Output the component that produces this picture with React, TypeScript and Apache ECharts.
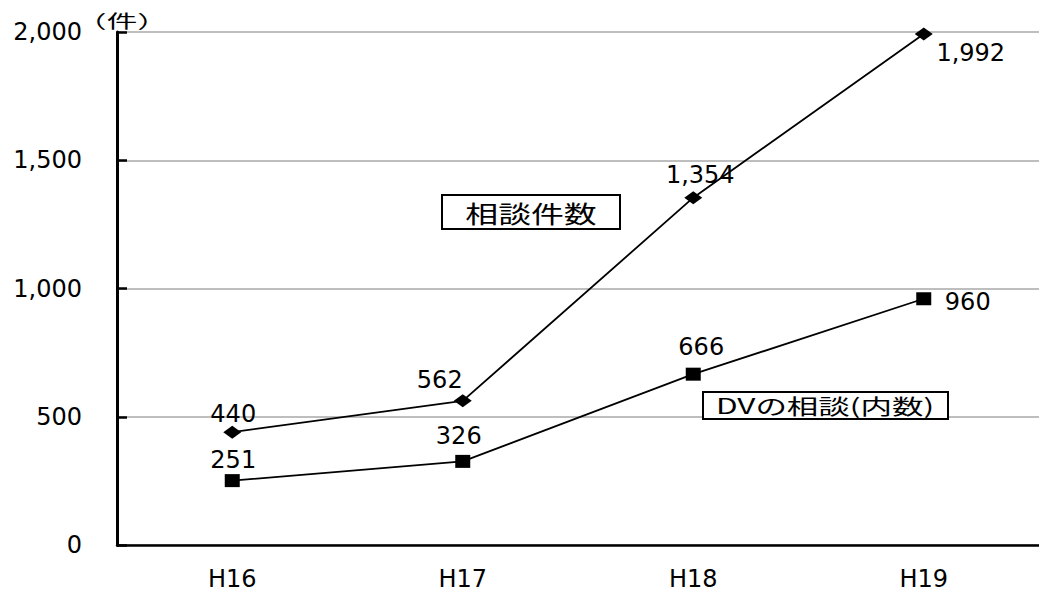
import React, { useEffect, useRef } from "react";
import * as echarts from "echarts";

// Fiscal years (Heisei era)
const years = ["H16", "H17", "H18", "H19"];
// Total consultations
const consultations = [440, 562, 1354, 1992];
// Of which DV consultations
const dvConsultations = [251, 326, 666, 960];
const yTicks = [0, 500, 1000, 1500, 2000];

// Where each value label sits relative to its marker
const totalLabelOffsets = [
  [1, -18],
  [-23, -21],
  [7, -23],
  [47, 19],
];
const dvLabelOffsets = [
  [1, -21],
  [-4, -25],
  [8, -27],
  [44, 3],
];

const NUM_FONT = "'DejaVu Sans', 'Liberation Sans', sans-serif";
const JP_FONT = "'Noto Sans CJK JP', 'DejaVu Sans', sans-serif";

const fmt = (v: number) => v.toLocaleString("en-US");

export default function App() {
  const ref = useRef<HTMLDivElement>(null);

  useEffect(() => {
    if (!ref.current) return;
    const chart = echarts.init(ref.current, null, { renderer: "svg" });

    const labelBase = {
      show: true,
      position: "inside",
      color: "#000",
      textBorderWidth: 0,
      fontSize: 24,
      fontFamily: NUM_FONT,
      formatter: (p: any) => fmt(Number(p.value)),
    };

    chart.setOption({
      animation: false,
      backgroundColor: "#fff",
      grid: { left: 117, top: 32, width: 930, height: 513 },
      xAxis: {
        type: "category",
        data: years,
        boundaryGap: true,
        axisLine: { lineStyle: { color: "#000", width: 2.5 } },
        axisTick: { inside: true, length: 8, lineStyle: { color: "#000", width: 1.5 } },
        axisLabel: { color: "#000", fontSize: 24, fontFamily: NUM_FONT, margin: 22 },
      },
      yAxis: {
        type: "value",
        min: yTicks[0],
        max: yTicks[yTicks.length - 1],
        interval: 500,
        axisLine: { show: true, lineStyle: { color: "#000", width: 3 } },
        axisTick: { show: true, inside: true, length: 10, lineStyle: { color: "#000", width: 2.5 } },
        splitLine: { lineStyle: { color: "#a8a8a8", width: 1.5 } },
        axisLabel: {
          color: "#000",
          fontSize: 24,
          fontFamily: NUM_FONT,
          margin: 35,
          padding: [8, 0, 0, 0],
          formatter: (v: number) => fmt(v),
        },
      },
      series: [
        {
          name: "相談件数",
          type: "line",
          data: consultations.map((v, i) => ({
            value: v,
            label: { offset: totalLabelOffsets[i] },
          })),
          symbol: "diamond",
          symbolSize: [18, 13],
          itemStyle: { color: "#000" },
          lineStyle: { color: "#000", width: 1.8 },
          label: labelBase,
          z: 3,
        },
        {
          name: "DVの相談(内数)",
          type: "line",
          data: dvConsultations.map((v, i) => ({
            value: v,
            label: { offset: dvLabelOffsets[i] },
          })),
          symbol: "rect",
          symbolSize: [15, 13],
          itemStyle: { color: "#000" },
          lineStyle: { color: "#000", width: 1.8 },
          label: labelBase,
          z: 3,
        },
      ],
      graphic: [
        {
          type: "text",
          x: 122,
          y: 20,
          scaleX: 1.7,
          style: {
            text: "（件）",
            fontSize: 18,
            fontFamily: JP_FONT,
            fill: "#000",
            align: "center",
            verticalAlign: "middle",
          },
        },
        {
          type: "rect",
          shape: { x: 442, y: 195, width: 178, height: 34 },
          style: { fill: "#fff", stroke: "#000", lineWidth: 2 },
          z: 10,
        },
        {
          type: "text",
          x: 531,
          y: 213,
          scaleX: 1.37,
          style: {
            text: "相談件数",
            fontSize: 24,
            fontFamily: JP_FONT,
            fill: "#000",
            align: "center",
            verticalAlign: "middle",
          },
          z: 11,
        },
        {
          type: "rect",
          shape: { x: 703, y: 392, width: 245, height: 27 },
          style: { fill: "#fff", stroke: "#000", lineWidth: 2 },
          z: 10,
        },
        {
          type: "text",
          x: 825,
          y: 405,
          scaleX: 1.5,
          style: {
            text: "DVの相談(内数)",
            fontSize: 21,
            fontFamily: JP_FONT,
            fill: "#000",
            align: "center",
            verticalAlign: "middle",
          },
          z: 11,
        },
      ],
    });
    return () => chart.dispose();
  }, []);

  return (
    <div
      ref={ref}
      style={{ position: "fixed", left: 0, top: 0, width: 1039, height: 592 }}
    />
  );
}
